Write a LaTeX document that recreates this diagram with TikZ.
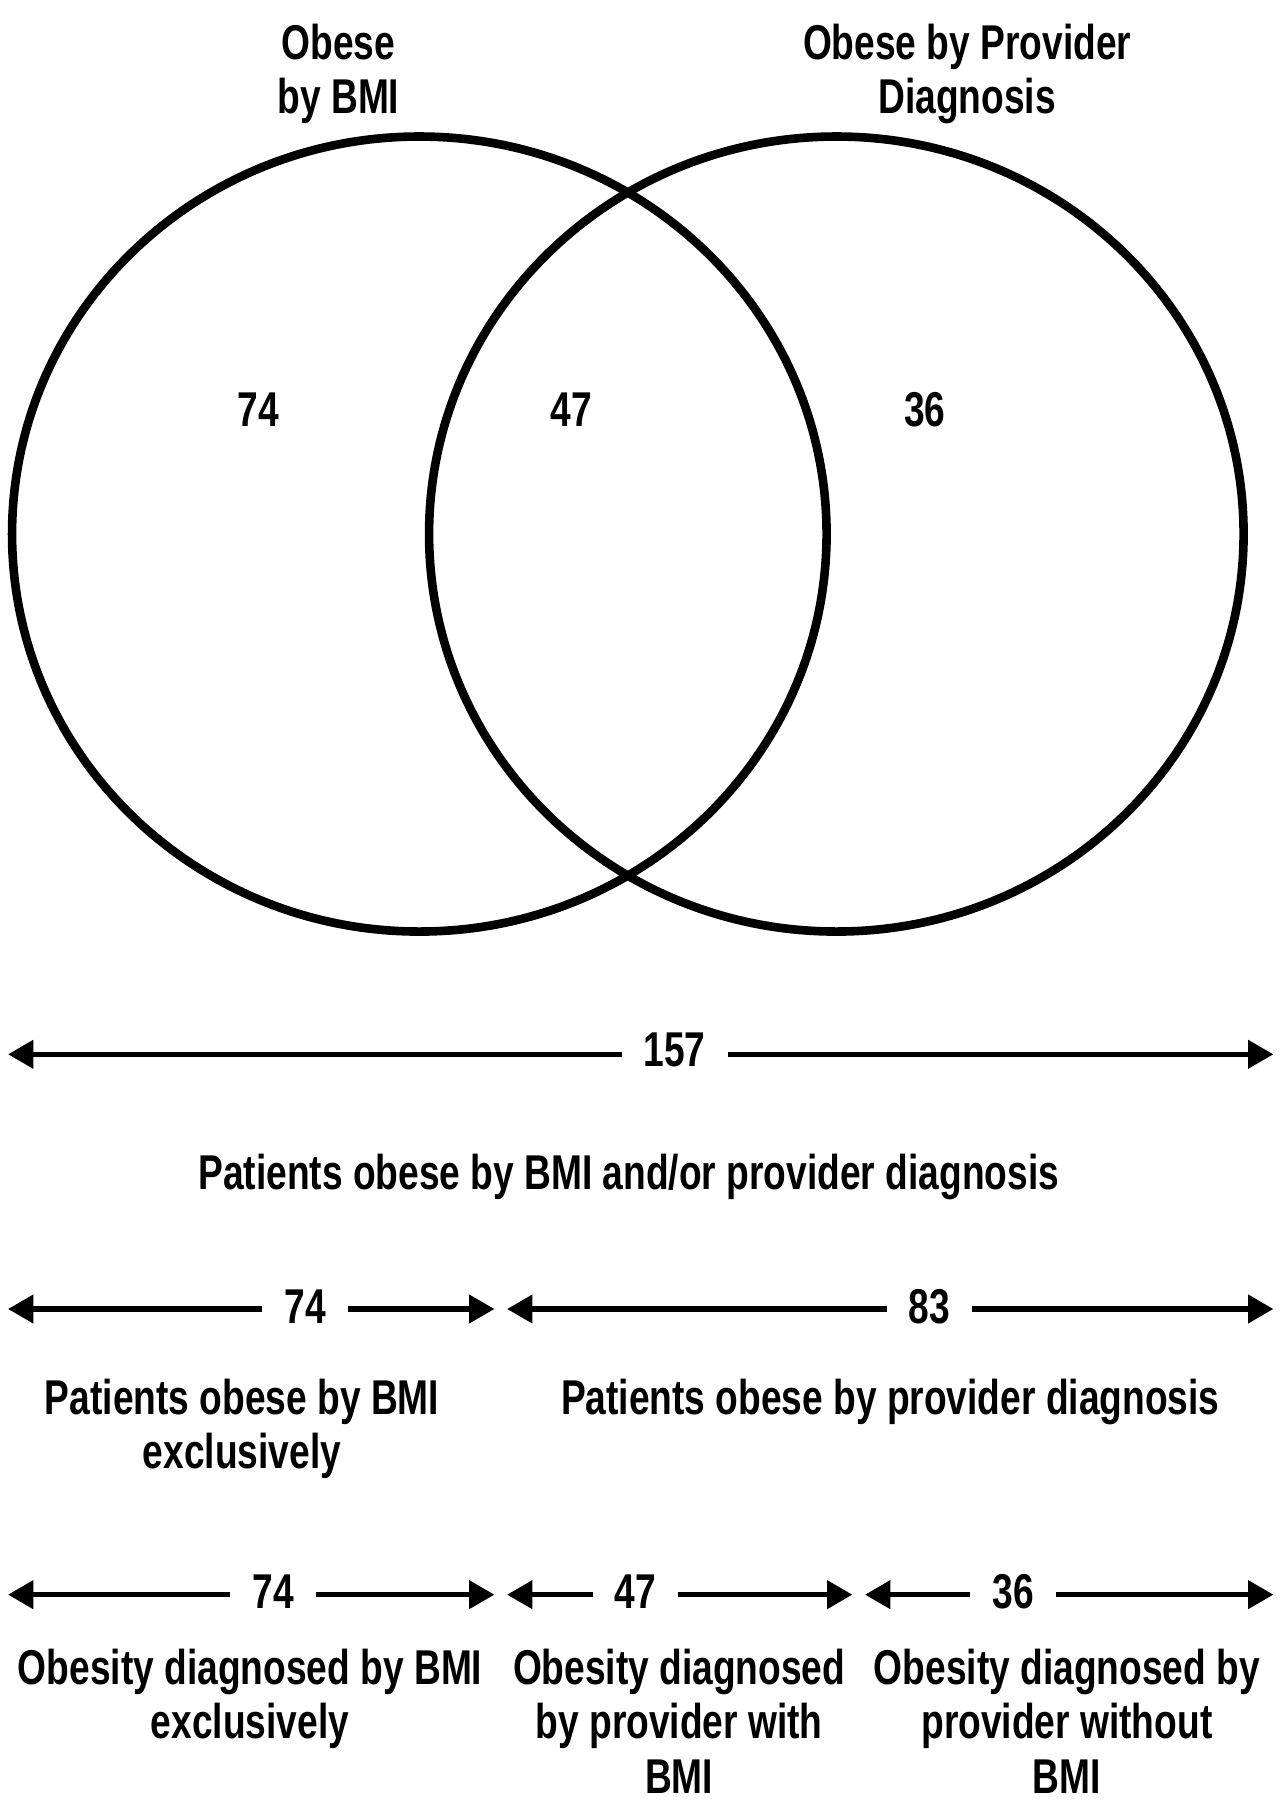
\documentclass[tikz,border=0pt]{standalone}
\usepackage{fontspec}
\setmainfont{Liberation Sans}[FakeStretch=0.76]
\usetikzlibrary{arrows.meta,shapes.geometric}
\begin{document}
\begin{tikzpicture}[x=1pt,y=-1pt,
  txt/.style={font=\fontsize{42.6}{47.5}\selectfont\bfseries, inner sep=0pt},
  lbl/.style={txt, align=center},
  anum/.style={txt, inner xsep=19pt},
  arr/.style={line width=4.6pt, -{Triangle[length=22pt,width=24pt]}},
  ring/.style={draw, ellipse, line width=7.5pt, inner sep=0pt, minimum width=710pt, minimum height=693pt}]
\useasboundingbox (0,0) rectangle (1115.7,1569);
% circles
\node[ring] (bmi) at (365.5,465.5) {};
\node[ring] (prov) at (729,465.5) {};
% titles
\node[lbl] (tbmi) at (295,64.5) {Obese\\by BMI};
\node[lbl] (tprov) at (843,64.5) {Obese by Provider\\Diagnosis};
% region counts
\node[txt] (c74) at (225,357) {74};
\node[txt] (c47) at (498,357) {47};
\node[txt] (c36) at (806,357) {36};
% row 1
\coordinate (r1l) at (7,919);
\coordinate (r1r) at (1110,919);
\node[anum] (n157) at (588,915) {157};
\draw[arr] (n157.west |- r1l) -- (r1l);
\draw[arr] (n157.east |- r1r) -- (r1r);
\node[txt] (l157) at (548,1026) {Patients obese by BMI and/or provider diagnosis};
% row 2
\coordinate (r2a) at (7,1141);
\coordinate (r2b) at (431,1141);
\coordinate (r2c) at (442,1141);
\coordinate (r2d) at (1110,1141);
\node[anum] (n74a) at (266,1139) {74};
\node[anum] (n83) at (810,1139) {83};
\draw[arr] (n74a.west |- r2a) -- (r2a);
\draw[arr] (n74a.east |- r2b) -- (r2b);
\draw[arr] (n83.west |- r2c) -- (r2c);
\draw[arr] (n83.east |- r2d) -- (r2d);
\node[lbl] (l74a) at (211,1245.5) {Patients obese by BMI\\exclusively};
\node[txt] (l83) at (776,1222) {Patients obese by provider diagnosis};
% row 3
\coordinate (r3a) at (7,1390);
\coordinate (r3b) at (431,1390);
\coordinate (r3c) at (442,1390);
\coordinate (r3d) at (743,1390);
\coordinate (r3e) at (754,1390);
\coordinate (r3f) at (1110,1390);
\node[anum] (n74b) at (238,1387) {74};
\node[anum] (n47) at (554,1387) {47};
\node[anum] (n36) at (883,1387) {36};
\draw[arr] (n74b.west |- r3a) -- (r3a);
\draw[arr] (n74b.east |- r3b) -- (r3b);
\draw[arr] (n47.west |- r3c) -- (r3c);
\draw[arr] (n47.east |- r3d) -- (r3d);
\draw[arr] (n36.west |- r3e) -- (r3e);
\draw[arr] (n36.east |- r3f) -- (r3f);
\node[lbl] (l74b) at (218,1481) {Obesity diagnosed by BMI\\exclusively};
\node[lbl] (l47) at (592,1500) {Obesity diagnosed\\by provider with\\BMI};
\node[lbl] (l36) at (930,1500) {Obesity diagnosed by\\provider without\\BMI};
\end{tikzpicture}
\end{document}
